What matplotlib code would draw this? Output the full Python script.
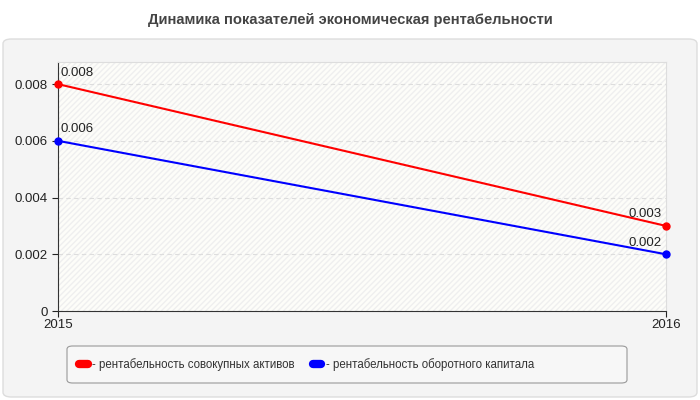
import matplotlib
matplotlib.use('Agg')
import matplotlib.pyplot as plt
from matplotlib.patches import FancyBboxPatch, Rectangle
from matplotlib.lines import Line2D

plt.rcParams['font.family'] = ['Liberation Sans', 'DejaVu Sans']

# chart data
years = [2015, 2016]
assets = [0.008, 0.003]
working_capital = [0.006, 0.002]
series_names = ['рентабельность совокупных активов', 'рентабельность оборотного капитала']
series_colors = ['#ff0000', '#0000ff']
y_ticks = [0, 0.002, 0.004, 0.006, 0.008]
y_labels = ['0', '0.002', '0.004', '0.006', '0.008']

W, H = 700, 400
fig = plt.figure(figsize=(7, 4), dpi=100)
fig.patch.set_facecolor('white')

# outer grey panel
panel = FancyBboxPatch((3 / W, 3 / H), 694 / W, 358 / H,
                       boxstyle='round,pad=0,rounding_size=0.012',
                       transform=fig.transFigure, facecolor='#f4f4f4',
                       edgecolor='#dddddd', linewidth=1, zorder=-5)
fig.patches.append(panel)

# legend box
legbox = FancyBboxPatch((67 / W, 1 - 383 / H), 560 / W, 37 / H,
                        boxstyle='round,pad=0,rounding_size=0.008',
                        transform=fig.transFigure, facecolor='#f7f7f7',
                        edgecolor='#999999', linewidth=0.8, zorder=-4)
fig.patches.append(legbox)

fig.text(0.5, 1 - 20 / H, 'Динамика показателей экономическая рентабельности',
         ha='center', va='center', fontsize=10.6, fontweight='bold', color='#444444')

ax = fig.add_axes([58 / W, 89 / H, 608 / W, 249 / H])
ax.set_facecolor('#fdfdf9')
ax.add_patch(Rectangle((0, 0), 1, 1, transform=ax.transAxes, facecolor='none',
                       edgecolor='#efefef', hatch='//////', linewidth=0, zorder=0))

for vals, color in zip([assets, working_capital], series_colors):
    ax.plot(years, vals, color=color, linewidth=1.5, marker='o', markersize=5,
            clip_on=False, zorder=3)
    for x, v in zip(years, vals):
        if x == years[0]:
            ax.annotate(f'{v:g}', (x, v), xytext=(1.5, 4), textcoords='offset points',
                        ha='left', va='bottom', fontsize=9.5, color='#222222')
        else:
            ax.annotate(f'{v:g}', (x, v), xytext=(-3, 4), textcoords='offset points',
                        ha='right', va='bottom', fontsize=9.5, color='#222222')

ax.set_xlim(years[0], years[-1])
ax.set_ylim(0, 0.00878)
ax.set_xticks(years)
ax.set_xticklabels([str(y) for y in years])
ax.set_yticks(y_ticks)
ax.set_yticklabels(y_labels)
ax.tick_params(axis='both', labelsize=9.5, colors='#222222', length=4, width=0.8)
ax.tick_params(axis='x', pad=1.5)
ax.grid(axis='y', linestyle=(0, (4, 3)), color='#dddddd', linewidth=0.8)
ax.set_axisbelow(True)
for side in ['top', 'right']:
    ax.spines[side].set_color('#dddddd')
for side in ['left', 'bottom']:
    ax.spines[side].set_color('#333333')

handles = [Line2D([0], [0], color=c, linewidth=6, solid_capstyle='round')
           for c in series_colors]
leg = fig.legend(handles, ['- ' + n for n in series_names],
                 loc='center left', bbox_to_anchor=(70 / W, 1 - 364.5 / H),
                 ncol=2, fontsize=8.3, frameon=False,
                 handlelength=0.75, handletextpad=0.35, columnspacing=1.6,
                 borderpad=0.3)
for t in leg.get_texts():
    t.set_color('#333333')

fig.savefig('out.png', dpi=100, facecolor=fig.get_facecolor())
